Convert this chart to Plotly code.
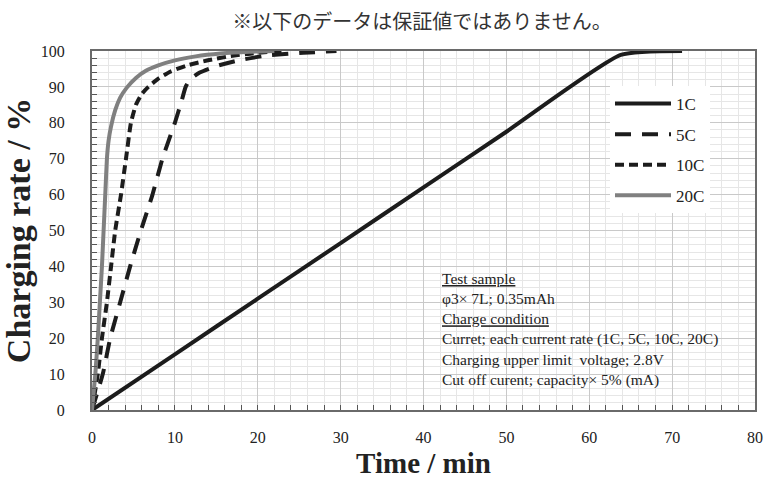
import plotly.graph_objects as go

# ---- data ----
t_1c = [0, 10, 20, 30, 40, 50, 63.8, 71.2]
r_1c = [0, 15.5, 31.0, 46.5, 62.0, 77.5, 98.9, 100]

t_5c = [0, 1.3, 2.2, 3.4, 4.6, 5.9, 7.3, 8.5, 10.0, 10.8, 11.3, 11.8, 13.0, 15.0, 17.5, 21.0, 25.5, 29.5]
r_5c = [0, 10, 20, 30, 40, 50, 60, 70, 80, 86, 90, 92, 94, 95.8, 97.3, 98.7, 99.5, 100]

t_10c = [0, 0.7, 1.2, 1.8, 2.3, 2.8, 3.5, 4.1, 4.7, 5.3, 6.0, 6.8, 8.0, 9.5, 11.5, 14.0, 16.5, 19.5, 23.0]
r_10c = [0, 10, 20, 30, 40, 50, 60, 70, 80, 85, 88, 90, 92.3, 94.3, 96.0, 97.4, 98.5, 99.4, 100]

t_20c = [0, 0.4, 0.7, 0.95, 1.2, 1.4, 1.6, 1.8, 2.0, 2.3, 2.8, 3.4, 4.2, 5.3, 6.5, 8.0, 10.0, 12.5, 15.5, 19.0, 22.0]
r_20c = [0, 10, 20, 30, 40, 50, 60, 70, 75, 79, 83.5, 87, 89.8, 92.5, 94.5, 96, 97.4, 98.5, 99.3, 99.8, 100]

series_names = ["1C", "5C", "10C", "20C"]
x_ticks = [0, 10, 20, 30, 40, 50, 60, 70, 80]
y_ticks = [0, 10, 20, 30, 40, 50, 60, 70, 80, 90, 100]

title_text = "※以下のデータは保証値ではありません。"
note_lines = [
    "<u>Test sample</u>",
    "φ3× 7L; 0.35mAh",
    "<u>Charge condition</u>",
    "Curret; each current rate (1C, 5C, 10C, 20C)",
    "Charging upper limit  voltage; 2.8V",
    "Cut off curent; capacity× 5% (mA)",
]

SERIF = "Liberation Serif"
BLACK = "#1c1c1c"

styles = {
    "1C": dict(color=BLACK, width=4, dash="solid"),
    "5C": dict(color=BLACK, width=4, dash="16px,11px"),
    "10C": dict(color=BLACK, width=4, dash="9px,5px"),
    "20C": dict(color="#808080", width=4, dash="solid"),
}

fig = go.Figure()
for name, xs, ys in zip(series_names, [t_1c, t_5c, t_10c, t_20c], [r_1c, r_5c, r_10c, r_20c]):
    fig.add_trace(go.Scatter(
        x=xs, y=ys, mode="lines", name=name, legendgroup=name,
        line=dict(shape="spline", smoothing=0.5, **styles[name]),
    ))

axis_common = dict(
    automargin=False,
    showline=True, linecolor="#6a6a6a", linewidth=2, mirror=True,
    ticks="inside", ticklen=5, tickcolor="#555", tickwidth=1,
    showgrid=True, gridcolor="#c9c9c9", gridwidth=1,
    zeroline=False,
    tickfont=dict(family=SERIF, size=16, color="#222"),
    minor=dict(dtick=2, showgrid=True, gridcolor="#e6e6e6", gridwidth=1,
               ticks="inside", ticklen=5, tickcolor="#555"),
)

fig.update_layout(
    width=766, height=479,
    margin=dict(l=92, r=11, t=51, b=69),
    paper_bgcolor="white", plot_bgcolor="white",
    title=dict(text=title_text, x=422 / 766, xref="container", xanchor="center",
               y=1 - 22 / 479, yref="container", yanchor="middle",
               font=dict(family="Noto Sans CJK JP", size=20, color="#333")),
    xaxis=dict(range=[0, 80], tickvals=x_ticks, ticklabelstandoff=12,
               title=dict(text="<b>Time / min</b>", font=dict(family=SERIF, size=29, color="#222"), standoff=8),
               **axis_common),
    yaxis=dict(range=[0, 100], tickvals=y_ticks, ticklabelstandoff=22,
               title=dict(text="<b>Charging rate / %</b>", font=dict(family=SERIF, size=34, color="#222"), standoff=8),
               **axis_common),
    legend=dict(x=(610 - 92) / 663, y=(410 - 86) / 359, xanchor="left", yanchor="top",
                bgcolor="white", font=dict(family=SERIF, size=17, color="#222"),
                traceorder="grouped", tracegroupgap=5.5, itemwidth=56),
    showlegend=True,
)

# white box behind the test-condition note
fig.add_shape(type="rect", xref="paper", yref="paper",
              x0=(423 - 92) / 663, x1=(743 - 92) / 663,
              y0=(410 - 392) / 359, y1=(410 - 260) / 359,
              fillcolor="white", line=dict(width=0), layer="between")
fig.add_annotation(xref="paper", yref="paper", x=(440 - 92) / 663, y=(410 - 268) / 359,
                   xanchor="left", yanchor="top", align="left", showarrow=False,
                   text="<br>".join(note_lines),
                   font=dict(family=SERIF, size=15.5, color="#222"))

fig.write_html("out.html")
